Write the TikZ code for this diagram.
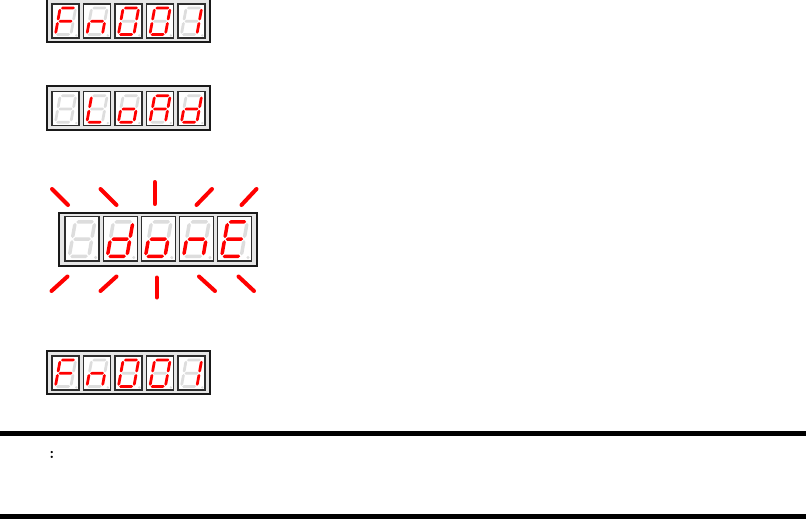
\documentclass[tikz,border=0pt]{standalone}
\usepackage{tikz}
\definecolor{segred}{HTML}{FF0000}
\definecolor{segoffc}{HTML}{DDDDDD}
\definecolor{boxfill}{HTML}{E6E6E6}
\definecolor{cellline}{HTML}{2E2E2E}
\tikzset{
  dispbox/.style={fill=boxfill,draw=black!90,line width=2pt},
  cellbox/.style={fill=white,draw=cellline,line width=1.2pt},
  ray/.style={draw=segred,line width=4pt,line cap=round},
  rule/.style={fill=black},
}
\def\st{1.4}
\newcommand\SegFill[1]{\ifnum#1=1 \def\SegC{segred}\else\def\SegC{segoffc}\fi}
\newcommand\HSeg[4]{\SegFill{#1}\path[fill=\SegC] (#2,#4) -- ({#2+\st},{#4+\st}) -- ({#3-\st},{#4+\st}) -- (#3,#4) -- ({#3-\st},{#4-\st}) -- ({#2+\st},{#4-\st}) -- cycle;}
\newcommand\VSeg[4]{\SegFill{#1}\path[fill=\SegC] (#2,#3) -- ({#2+\st},{#3+\st}) -- ({#2+\st},{#4-\st}) -- (#2,#4) -- ({#2-\st},{#4-\st}) -- ({#2-\st},{#3+\st}) -- cycle;}
\def\DigitBits#1#2#3#4#5#6#7{%
  \HSeg{#1}{0.8}{14.7}{26.5}%
  \VSeg{#2}{15.5}{14.05}{25.7}%
  \VSeg{#3}{15.5}{0.8}{12.45}%
  \HSeg{#4}{0.8}{14.7}{0}%
  \VSeg{#5}{0}{0.8}{12.45}%
  \VSeg{#6}{0}{14.05}{25.7}%
  \HSeg{#7}{0.8}{14.7}{13.25}%
}
% #1 x, #2 y (top-left of cell, image coords), #3 xscale, #4 yscale, #5 bits abcdefg
\newcommand\SegCell[5]{%
  \begin{scope}[shift={(#1,#2)}]
    \begin{scope}[x=1pt,y=1pt,xscale=#3,yscale=#4]
      \draw[cellbox] (0,0) rectangle (27,-34);
      \begin{scope}[shift={(3.4,-30.5)},xslant=0.18]
        \DigitBits#5
      \end{scope}
      \fill[segoffc] (24.3,-31.4) circle (1.3);
    \end{scope}
  \end{scope}}
\newcommand\SmallDisplay[6]{% #1 top y of cells, #2..#6 bits
  \draw[dispbox] (47,#1-5.5) rectangle (209.5,#1+38);
  \SegCell{52}{#1}{1}{1}{#2}
  \SegCell{83.5}{#1}{1}{1}{#3}
  \SegCell{115}{#1}{1}{1}{#4}
  \SegCell{146.5}{#1}{1}{1}{#5}
  \SegCell{178}{#1}{1}{1}{#6}}
\begin{document}
\begin{tikzpicture}[x=1pt,y=-1pt]
\useasboundingbox (0,0) rectangle (806,519);
% display 1 : Fn001
\SmallDisplay{4}{1000111}{0010101}{1111110}{1111110}{0110000}
% display 2 : LoAd
\SmallDisplay{91.7}{0000000}{0001110}{0011101}{1110111}{0111101}
% display 3 : donE (large, flashing)
\draw[dispbox] (59.3,212.7) rectangle (256.7,265.7);
\SegCell{65}{216.7}{1.26}{1.3}{0000000}
\SegCell{103.1}{216.7}{1.26}{1.3}{0111101}
\SegCell{141.2}{216.7}{1.26}{1.3}{0011101}
\SegCell{179.3}{216.7}{1.26}{1.3}{0010101}
\SegCell{217.4}{216.7}{1.26}{1.3}{1001111}
% rays
\draw[ray] (52,189) -- (68,205);
\draw[ray] (100.5,189) -- (116.5,205);
\draw[ray] (154.7,182) -- (154.7,204);
\draw[ray] (196.5,205) -- (212,189);
\draw[ray] (241.5,205) -- (256.5,189);
\draw[ray] (51.5,291) -- (67.5,276.5);
\draw[ray] (100.5,291) -- (116.5,276.5);
\draw[ray] (156.7,277.5) -- (156.7,297.5);
\draw[ray] (199,276.5) -- (215,291);
\draw[ray] (238.5,276.5) -- (254,291);
% display 4 : Fn001
\SmallDisplay{356}{1000111}{0010101}{1111110}{1111110}{0110000}
% rules
\fill[rule] (0,431) rectangle (806,436);
\fill[rule] (0,514) rectangle (806,519.5);
\node[anchor=base,inner sep=0pt,font=\fontsize{16}{18}\selectfont\bfseries] (colon) at (52,458) {:};
\end{tikzpicture}
\end{document}
